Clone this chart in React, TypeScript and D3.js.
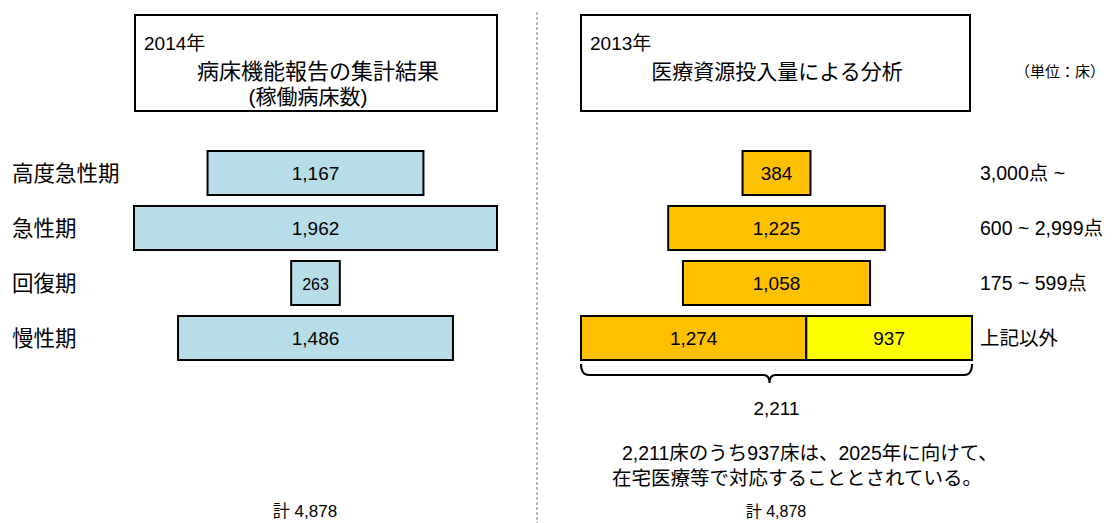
import React from "react";
import * as d3 from "d3";

const leftCategories = ["高度急性期", "急性期", "回復期", "慢性期"];
const leftValues = [1167, 1962, 263, 1486];
const rightLabels = ["3,000点 ~", "600 ~ 2,999点", "175 ~ 599点", "上記以外"];
const rightValues = [384, 1225, 1058, 1274];
const rightExtra = [0, 0, 0, 937];
const leftTitle = ["2014年", "病床機能報告の集計結果", "(稼働病床数)"];
const rightTitle = ["2013年", "医療資源投入量による分析"];
const unitLabel = "（単位：床）";
const braceTotal = 2211;
const noteLines = ["2,211床のうち937床は、2025年に向けて、", "在宅医療等で対応することとされている。"];
const grandTotal = "計 4,878";

const FONT = "'Liberation Sans', Arial, 'Noto Sans CJK JP', sans-serif";
const fmt = d3.format(",");

export default function App() {
  const W = 1120, H = 523;
  const y = d3.scaleBand<number>().domain(d3.range(4)).range([151, 360]).paddingInner(0.2).paddingOuter(0);
  const leftCx = 315.5;
  const rightCx = 776.5;
  const xl = d3.scaleLinear().domain([0, 1962]).range([0, 363]);
  const xr = d3.scaleLinear().domain([0, 2211]).range([0, 391]);
  const bw = y.bandwidth();

  const bottomLeft = rightCx - xr(rightValues[3] + rightExtra[3]) / 2;
  const bottomRight = rightCx + xr(rightValues[3] + rightExtra[3]) / 2;
  const by = 364, bEnd = 375, bTip = 383;
  const braceMid = rightCx - 7;
  const brace = d3.path();
  brace.moveTo(bottomLeft, by);
  brace.quadraticCurveTo(bottomLeft, bEnd, bottomLeft + 8, bEnd);
  brace.lineTo(braceMid - 6, bEnd);
  brace.quadraticCurveTo(braceMid, bEnd, braceMid, bTip);
  brace.quadraticCurveTo(braceMid, bEnd, braceMid + 6, bEnd);
  brace.lineTo(bottomRight - 8, bEnd);
  brace.quadraticCurveTo(bottomRight, bEnd, bottomRight, by);

  return (
    <svg width={W} height={H} style={{ position: "absolute", left: 0, top: 0, background: "#fff" }} fontFamily={FONT}>
      <rect x={0} y={0} width={W} height={H} fill="#fff" />
      {/* divider */}
      <line x1={537} x2={537} y1={12} y2={H} stroke="#777" strokeWidth={1} strokeDasharray="3,2" />

      {/* title boxes */}
      <rect x={135} y={15} width={362} height={96} fill="#fff" stroke="#000" strokeWidth={2} />
      <text x={144} y={50} fontSize={19}>{leftTitle[0]}</text>
      <text x={318} y={79} fontSize={22} textAnchor="middle">{leftTitle[1]}</text>
      <text x={308} y={104} fontSize={21} textAnchor="middle">{leftTitle[2]}</text>

      <rect x={581} y={15} width={389} height={96} fill="#fff" stroke="#000" strokeWidth={2} />
      <text x={590} y={50} fontSize={19}>{rightTitle[0]}</text>
      <text x={777} y={79} fontSize={21} textAnchor="middle">{rightTitle[1]}</text>
      <text x={1060} y={77} fontSize={15} textAnchor="middle">{unitLabel}</text>

      {/* left bars */}
      {leftValues.map((v, i) => {
        const w = xl(v);
        const yy = y(i)!;
        return (
          <g key={"l" + i}>
            <text x={12} y={yy + bw / 2 + 8} fontSize={21.5}>{leftCategories[i]}</text>
            <rect x={leftCx - w / 2} y={yy} width={w} height={bw} fill="#B7DDE8" stroke="#000" strokeWidth={2} />
            <text x={leftCx} y={yy + bw / 2 + 7} fontSize={v < 500 ? 16 : 19} textAnchor="middle">{fmt(v)}</text>
          </g>
        );
      })}

      {/* right bars */}
      {rightValues.map((v, i) => {
        const total = v + rightExtra[i];
        const w = xr(total);
        const x0 = rightCx - w / 2;
        const w1 = xr(v);
        const yy = y(i)!;
        return (
          <g key={"r" + i}>
            <rect x={x0} y={yy} width={w1} height={bw} fill="#FFC000" stroke="#000" strokeWidth={2} />
            <text x={x0 + w1 / 2} y={yy + bw / 2 + 7} fontSize={19} textAnchor="middle">{fmt(v)}</text>
            {rightExtra[i] > 0 && (
              <g>
                <rect x={x0 + w1} y={yy} width={xr(rightExtra[i])} height={bw} fill="#FFFF00" stroke="#000" strokeWidth={2} />
                <text x={x0 + w1 + xr(rightExtra[i]) / 2} y={yy + bw / 2 + 7} fontSize={19} textAnchor="middle">{fmt(rightExtra[i])}</text>
              </g>
            )}
            <text x={980} y={yy + bw / 2 + 7} fontSize={19.5}>{rightLabels[i]}</text>
          </g>
        );
      })}

      {/* brace */}
      <path d={brace.toString()} fill="none" stroke="#000" strokeWidth={2} />
      <text x={rightCx} y={415} fontSize={19} textAnchor="middle">{fmt(braceTotal)}</text>

      <text x={622} y={460} fontSize={19.5}>{noteLines[0]}</text>
      <text x={612} y={485} fontSize={19.5}>{noteLines[1]}</text>

      <text x={305} y={517} fontSize={17} textAnchor="middle">{grandTotal}</text>
      <text x={776} y={517} fontSize={16} textAnchor="middle">{grandTotal}</text>
    </svg>
  );
}
